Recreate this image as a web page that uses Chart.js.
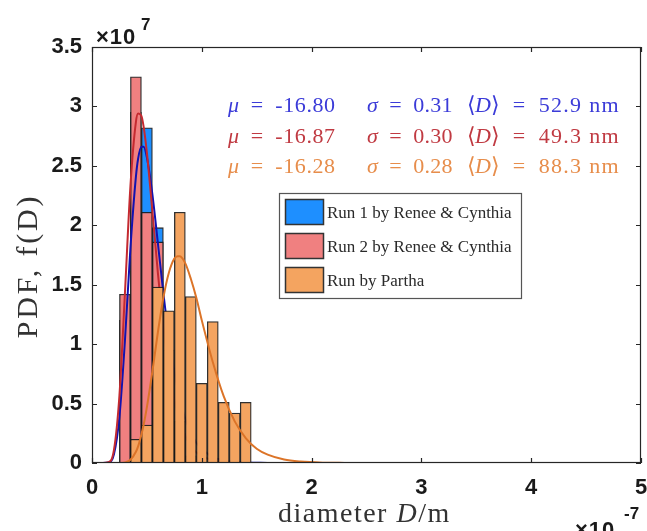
<!DOCTYPE html>
<html>
<head>
<meta charset="utf-8">
<script src="https://cdn.jsdelivr.net/npm/chart.js@4/dist/chart.umd.min.js"></script>
<style>
  html, body { margin: 0; padding: 0; background: #fff; }
  canvas { display: block; }
</style>
</head>
<body>
<canvas id="c" width="647" height="531"></canvas>
<script>
// histogram bins (centre, nm) and heights (x1e7)
var binCenters = [30, 40, 50, 60, 70, 80, 90, 100, 110, 120, 130, 140];
var run1 = [1.2, 2.95, 2.82, 1.98, 0.8, 0.25, null, null, null, null, null, null];
var run2 = [1.42, 3.25, 2.11, 1.86, 0.95, 0.35, 0.06, null, null, null, null, null];
var partha = [null, 0.2, 0.32, 1.48, 1.28, 2.11, 1.40, 0.67, 1.19, 0.51, 0.42, 0.51];

// fitted curves (nm, x1e7)
var curveX = [0, 10, 15, 20, 25, 30, 35, 40, 42, 45, 47, 50, 55, 60, 65, 70, 75, 78, 80, 85,
              90, 95, 100, 110, 120, 130, 140, 150, 160, 175, 190, 210, 230, 260, 500];
var fit1 = [0, 0, 0.004, 0.073, 0.39, 1.03, 1.81, 2.41, 2.56, 2.66, 2.66, 2.57, 2.26, 1.85, 1.43, 1.06, 0.77, 0.62, 0.54, 0.37,
            0.26, 0.17, 0.12, 0.05, 0.022, 0.01, 0.004, 0.002, 0, 0, 0, 0, 0, 0, 0];
var fit2 = [0, 0, 0.006, 0.11, 0.57, 1.43, 2.33, 2.87, 2.94, 2.92, 2.83, 2.61, 2.12, 1.60, 1.15, 0.79, 0.53, 0.42, 0.35, 0.23,
            0.14, 0.09, 0.057, 0.022, 0.008, 0.003, 0.001, 0, 0, 0, 0, 0, 0, 0, 0];
var fit3 = [0, 0, 0, 0, 0, 0.005, 0.027, 0.095, 0.14, 0.24, 0.32, 0.47, 0.77, 1.10, 1.39, 1.60, 1.72, 1.74, 1.74, 1.68,
            1.55, 1.39, 1.20, 0.85, 0.56, 0.35, 0.21, 0.12, 0.07, 0.029, 0.012, 0.003, 0.001, 0, 0];

var xTicks = [0, 100, 200, 300, 400, 500];
var yTicks = [0, 0.5, 1, 1.5, 2, 2.5, 3, 3.5];

var seriesNames = ['Run 1 by Renee & Cynthia', 'Run 2 by Renee & Cynthia', 'Run by Partha'];
var fitMu = ['-16.80', '-16.87', '-16.28'];
var fitSigma = ['0.31', '0.30', '0.28'];
var fitMean = ['52.9', '49.3', '88.3'];

var barColors = ['#1e8fff', '#f08080', '#f4a460'];
var lineColors = ['#1212b0', '#c42a30', '#dc7428'];
var textColors = ['#3b3bd8', '#c03a42', '#e78d4b'];

function pts(xs, ys) {
  return xs.map(function (x, i) { return { x: x, y: ys[i] }; });
}

function barSet(i, vals, order) {
  return {
    type: 'bar', label: seriesNames[i], data: pts(binCenters, vals),
    backgroundColor: barColors[i], borderColor: 'rgba(25,25,25,0.9)',
    borderWidth: 1.3, borderSkipped: false, grouped: false,
    barPercentage: 1, categoryPercentage: 1, order: order
  };
}

function lineSet(i, vals, order) {
  return {
    type: 'line', data: pts(curveX, vals), borderColor: lineColors[i],
    borderWidth: 2, pointRadius: 0, cubicInterpolationMode: 'monotone',
    fill: false, order: order
  };
}

// parts: [text, italic, letterSpacing]
function richText(ctx, x, y, parts, size) {
  parts.forEach(function (p) {
    ctx.letterSpacing = (p[2] || 0) + 'px';
    ctx.font = (p[1] ? 'italic ' : '') + size + 'px "Liberation Serif"';
    ctx.fillText(p[0], x, y);
    x += ctx.measureText(p[0]).width;
  });
  ctx.letterSpacing = '0px';
  return x;
}

var decor = {
  id: 'decor',
  afterDatasetsDraw: function (chart) {
    var ctx = chart.ctx, a = chart.chartArea;
    var xs = chart.scales.x, ys = chart.scales.y;
    ctx.save();
    ctx.strokeStyle = '#262626';
    ctx.lineWidth = 1.2;
    ctx.strokeRect(a.left + 0.5, a.top + 0.5, a.right - a.left - 1, a.bottom - a.top - 1);
    ctx.beginPath();
    xTicks.forEach(function (t) {
      var px = Math.round(xs.getPixelForValue(t)) + 0.5;
      ctx.moveTo(px, a.bottom); ctx.lineTo(px, a.bottom - 5);
      ctx.moveTo(px, a.top); ctx.lineTo(px, a.top + 5);
    });
    yTicks.forEach(function (t) {
      var py = Math.round(ys.getPixelForValue(t)) + 0.5;
      ctx.moveTo(a.left, py); ctx.lineTo(a.left + 5, py);
      ctx.moveTo(a.right, py); ctx.lineTo(a.right - 5, py);
    });
    ctx.stroke();
    ctx.restore();
  },
  afterDraw: function (chart) {
    var ctx = chart.ctx;
    ctx.save();
    ctx.textBaseline = 'alphabetic';
    ctx.textAlign = 'left';

    // exponent labels
    ctx.fillStyle = '#1a1a1a';
    ctx.font = 'bold 22px "Liberation Sans"';
    ctx.letterSpacing = '1px';
    ctx.fillText('\u00d710', 96, 44);
    ctx.fillText('\u00d710', 575, 537);
    ctx.letterSpacing = '0px';
    ctx.font = 'bold 17px "Liberation Sans"';
    ctx.fillText('7', 141, 30);
    ctx.fillText('-7', 624, 519);

    // axis titles
    ctx.fillStyle = '#333';
    richText(ctx, 278, 522, [['diameter ', false, 1.5], ['D', true, 1.5], ['/m', false, 1.5]], 28);
    ctx.save();
    ctx.translate(37, 266);
    ctx.rotate(-Math.PI / 2);
    ctx.textAlign = 'center';
    ctx.font = '30px "Liberation Serif"';
    ctx.letterSpacing = '2.8px';
    ctx.fillText('PDF, f(D)', 0, 0);
    ctx.restore();

    // fit parameters
    var eq = '\u2002=\u2002';
    for (var i = 0; i < 3; i++) {
      var y = 112 + i * 30.5;
      ctx.fillStyle = textColors[i];
      richText(ctx, 228, y, [['\u03bc', true], [eq + fitMu[i], false, 0.6]], 22);
      richText(ctx, 367, y, [['\u03c3', true], [eq + fitSigma[i], false, 0.3]], 22);
      richText(ctx, 467, y, [['\u27e8', false, -1], ['D', true, 0.5], ['\u27e9', false, 0],
                             [eq + fitMean[i] + ' nm', false, 1.3]], 22);
    }

    // legend
    ctx.fillStyle = '#fff';
    ctx.fillRect(279, 193, 242, 105);
    ctx.strokeStyle = '#555';
    ctx.lineWidth = 1.2;
    ctx.strokeRect(279.5, 193.5, 242, 105);
    for (var j = 0; j < 3; j++) {
      var top = 199 + j * 34;
      ctx.fillStyle = barColors[j];
      ctx.fillRect(285, top, 38, 25);
      ctx.strokeStyle = '#333';
      ctx.lineWidth = 1.5;
      ctx.strokeRect(285.5, top + 0.5, 38, 25);
      ctx.fillStyle = '#2a2a2a';
      ctx.font = '17px "Liberation Serif"';
      ctx.fillText(seriesNames[j], 327, top + 19);
    }
    ctx.restore();
  }
};

var tickFont = { family: '"Liberation Sans", Arial, sans-serif', weight: 'bold', size: 22 };

new Chart(document.getElementById('c'), {
  type: 'bar',
  data: {
    datasets: [
      barSet(0, run1, 6),
      barSet(1, run2, 5),
      lineSet(0, fit1, 4),
      lineSet(1, fit2, 3),
      barSet(2, partha, 2),
      lineSet(2, fit3, 1)
    ]
  },
  options: {
    responsive: false,
    animation: false,
    layout: { padding: { left: 0, right: 6, top: 47, bottom: 0 } },
    plugins: { legend: { display: false }, tooltip: { enabled: false } },
    scales: {
      x: {
        type: 'linear', min: 0, max: 500, offset: false,
        grid: { display: false, drawTicks: false, offset: false },
        border: { display: false },
        ticks: {
          stepSize: 100, maxRotation: 0, padding: 12, color: '#1a1a1a', font: tickFont,
          callback: function (v) { return String(v / 100); }
        },
        afterFit: function (s) { s.height = 68; s.paddingLeft = 0; s.paddingRight = 0; }
      },
      y: {
        min: 0, max: 3.5,
        grid: { display: false, drawTicks: false },
        border: { display: false },
        ticks: {
          stepSize: 0.5, padding: 10, color: '#1a1a1a', font: tickFont,
          callback: function (v) { return String(v); }
        },
        afterFit: function (s) { s.width = 92; s.paddingTop = 0; s.paddingBottom = 0; }
      }
    }
  },
  plugins: [decor]
});
</script>
</body>
</html>
